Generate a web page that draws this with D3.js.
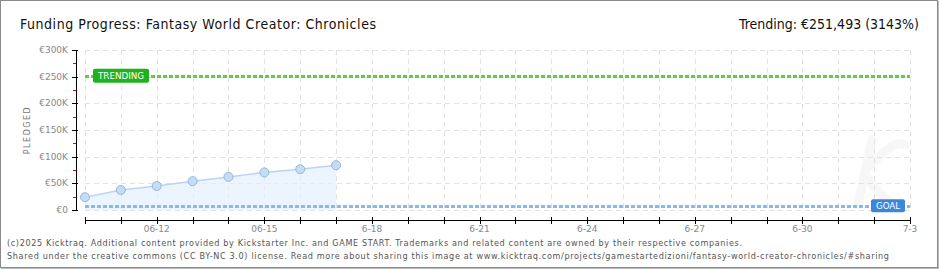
<!DOCTYPE html>
<html>
<head>
<meta charset="utf-8">
<script src="https://cdn.jsdelivr.net/npm/d3@7"></script>
<style>
  body { margin: 0; background: #fff; }
  svg { display: block; font-family: "DejaVu Sans", sans-serif; }
</style>
</head>
<body>
<div id="chart"></div>
<script>
// chart data
var dates = ["2025-06-10", "2025-06-11", "2025-06-12", "2025-06-13", "2025-06-14", "2025-06-15", "2025-06-16", "2025-06-17"];
var pledged = [24000, 37500, 45000, 54000, 62000, 70500, 76500, 84000];
var goal = 8000;
var trending = 251493;
var yTicks = [0, 50000, 100000, 150000, 200000, 250000, 300000];
var yTickLabels = ["€0", "€50K", "€100K", "€150K", "€200K", "€250K", "€300K"];
var xTickDates = ["2025-06-12", "2025-06-15", "2025-06-18", "2025-06-21", "2025-06-24", "2025-06-27", "2025-06-30", "2025-07-03"];
var xTickLabels = ["06-12", "06-15", "6-18", "6-21", "6-24", "6-27", "6-30", "7-3"];

var width = 940;
var height = 270;
var parse = d3.timeParse("%Y-%m-%d");

var svg = d3.select("#chart").append("svg")
  .attr("width", width)
  .attr("height", height);

// frame
svg.append("rect")
  .attr("x", 0.5).attr("y", 0.5)
  .attr("width", 937).attr("height", 267)
  .attr("fill", "#fff")
  .attr("stroke", "#8a8a8a");
svg.append("line").attr("x1", 938.5).attr("x2", 938.5).attr("y1", 1).attr("y2", 269)
  .attr("stroke", "#bbb");
svg.append("line").attr("x1", 1).attr("x2", 939).attr("y1", 268.5).attr("y2", 268.5)
  .attr("stroke", "#bbb");

// scales
var xScale = d3.scaleTime()
  .domain([parse("2025-06-10"), parse("2025-07-03")])
  .range([85, 910]);
var yScale = d3.scaleLinear()
  .domain([0, 300000])
  .range([210, 50]);

// faint watermark stroke
svg.append("path")
  .attr("d", "M858,205 L872,140 M868,168 C885,150 895,140 905,145 M866,175 C875,190 885,200 895,205")
  .attr("fill", "none")
  .attr("stroke", "#f7f7f7")
  .attr("stroke-width", 9)
  .attr("stroke-linecap", "round");

// grid
var days = d3.timeDay.range(parse("2025-06-10"), d3.timeDay.offset(parse("2025-07-03"), 1));
svg.append("g").selectAll("line")
  .data(days)
  .enter().append("line")
  .attr("x1", function(d) { return Math.round(xScale(d)) + 0.5; })
  .attr("x2", function(d) { return Math.round(xScale(d)) + 0.5; })
  .attr("y1", 50).attr("y2", 210)
  .attr("stroke", "#e2e2e2")
  .attr("stroke-dasharray", "5,4");
svg.append("g").selectAll("line")
  .data(yTicks)
  .enter().append("line")
  .attr("x1", 85).attr("x2", 910)
  .attr("y1", function(d) { return Math.round(yScale(d)) + 0.5; })
  .attr("y2", function(d) { return Math.round(yScale(d)) + 0.5; })
  .attr("stroke", "#e2e2e2")
  .attr("stroke-dasharray", "5,4");

// area + line
var pts = dates.map(function(d, i) { return { date: parse(d), value: pledged[i] }; });
var area = d3.area()
  .x(function(d) { return xScale(d.date); })
  .y0(yScale(0))
  .y1(function(d) { return yScale(d.value); });
var line = d3.line()
  .x(function(d) { return xScale(d.date); })
  .y(function(d) { return yScale(d.value); });

svg.append("path").datum(pts)
  .attr("d", area)
  .attr("fill", "#e4effc")
  .attr("fill-opacity", 0.7);
svg.append("path").datum(pts)
  .attr("d", line)
  .attr("fill", "none")
  .attr("stroke", "#b9d5f5")
  .attr("stroke-width", 1.5);

// goal & trending lines
function refLine(v, color) {
  svg.append("line")
    .attr("x1", 85).attr("x2", 910)
    .attr("y1", Math.round(yScale(v)) + 0.5)
    .attr("y2", Math.round(yScale(v)) + 0.5)
    .attr("stroke", color)
    .attr("stroke-width", 3)
    .attr("stroke-dasharray", "4,2");
}
refLine(goal, "#8ab8ec");
refLine(trending, "#66cc44");

// points
svg.append("g").selectAll("circle")
  .data(pts)
  .enter().append("circle")
  .attr("cx", function(d) { return xScale(d.date); })
  .attr("cy", function(d) { return yScale(d.value); })
  .attr("r", 4.5)
  .attr("fill", "#c5dcf7")
  .attr("stroke", "#98b7dc")
  .attr("stroke-width", 1);

// badges
function badge(x, y, w, h, color, label, tw) {
  svg.append("rect")
    .attr("x", x).attr("y", y)
    .attr("width", w).attr("height", h)
    .attr("rx", 2)
    .attr("fill", color);
  svg.append("text")
    .attr("x", x + (w - tw) / 2).attr("y", y + h / 2 + 3.5)
    .attr("font-size", 9.5)
    .attr("textLength", tw)
    .attr("lengthAdjust", "spacingAndGlyphs")
    .attr("fill", "#fff")
    .text(label);
}
badge(93, yScale(trending) - 7, 56, 14, "#1fb21f", "TRENDING", 46);
badge(871, yScale(goal) - 6.5, 34, 13, "#3d87d9", "GOAL", 24);

// y axis
var yAxis = svg.append("g");
yAxis.append("line")
  .attr("x1", 76.5).attr("x2", 76.5)
  .attr("y1", 50).attr("y2", 211)
  .attr("stroke", "#000");
yAxis.selectAll("line.major")
  .data(yTicks)
  .enter().append("line")
  .attr("class", "major")
  .attr("x1", 72).attr("x2", 78)
  .attr("y1", function(d) { return Math.round(yScale(d)) + 0.5; })
  .attr("y2", function(d) { return Math.round(yScale(d)) + 0.5; })
  .attr("stroke", "#000");
yAxis.selectAll("line.minor")
  .data(yTicks.slice(1))
  .enter().append("line")
  .attr("class", "minor")
  .attr("x1", 73).attr("x2", 76)
  .attr("y1", function(d) { return Math.round(yScale(d - 25000)) + 0.5; })
  .attr("y2", function(d) { return Math.round(yScale(d - 25000)) + 0.5; })
  .attr("stroke", "#e00");
yAxis.selectAll("text")
  .data(yTicks)
  .enter().append("text")
  .attr("x", 68)
  .attr("y", function(d) { return yScale(d) + 3; })
  .attr("text-anchor", "end")
  .attr("font-size", 9)
  .attr("fill", "#888")
  .text(function(d, i) { return yTickLabels[i]; });

svg.append("text")
  .attr("transform", "translate(30,130) rotate(-90)")
  .attr("text-anchor", "middle")
  .attr("font-size", 8)
  .attr("letter-spacing", 1.5)
  .attr("fill", "#777")
  .text("PLEDGED");

// x axis
var xAxis = svg.append("g");
xAxis.append("line")
  .attr("x1", 85).attr("x2", 911)
  .attr("y1", 220.5).attr("y2", 220.5)
  .attr("stroke", "#000");
xAxis.selectAll("line.tick")
  .data(days)
  .enter().append("line")
  .attr("class", "tick")
  .attr("x1", function(d) { return Math.round(xScale(d)) + 0.5; })
  .attr("x2", function(d) { return Math.round(xScale(d)) + 0.5; })
  .attr("y1", 217).attr("y2", 224)
  .attr("stroke", "#000");
xAxis.selectAll("text")
  .data(xTickDates)
  .enter().append("text")
  .attr("x", function(d) { return xScale(parse(d)); })
  .attr("y", 232)
  .attr("text-anchor", "middle")
  .attr("font-size", 9)
  .attr("fill", "#888")
  .text(function(d, i) { return xTickLabels[i]; });

// titles
svg.append("text")
  .attr("x", 20).attr("y", 29)
  .attr("font-size", 14)
  .attr("font-family", "DejaVu Sans Condensed, DejaVu Sans")
  .attr("textLength", 356)
  .attr("fill", "#111")
  .text("Funding Progress: Fantasy World Creator: Chronicles");
svg.append("text")
  .attr("x", 919).attr("y", 29)
  .attr("text-anchor", "end")
  .attr("font-size", 14)
  .attr("font-family", "DejaVu Sans Condensed, DejaVu Sans")
  .attr("fill", "#111")
  .text("Trending:  €251,493 (3143%)");

// footer
svg.append("text")
  .attr("x", 7).attr("y", 246)
  .attr("font-size", 9)
  .attr("font-family", "DejaVu Sans Condensed, DejaVu Sans")
  .attr("textLength", 735)
  .attr("fill", "#555")
  .text("(c)2025 Kicktraq. Additional content provided by Kickstarter Inc. and GAME START. Trademarks and related content are owned by their respective companies.");
svg.append("text")
  .attr("x", 7).attr("y", 259)
  .attr("font-size", 9)
  .attr("font-family", "DejaVu Sans Condensed, DejaVu Sans")
  .attr("textLength", 882)
  .attr("fill", "#555")
  .text("Shared under the creative commons (CC BY-NC 3.0) license. Read more about sharing this image at www.kicktraq.com/projects/gamestartedizioni/fantasy-world-creator-chronicles/#sharing");
</script>
</body>
</html>
